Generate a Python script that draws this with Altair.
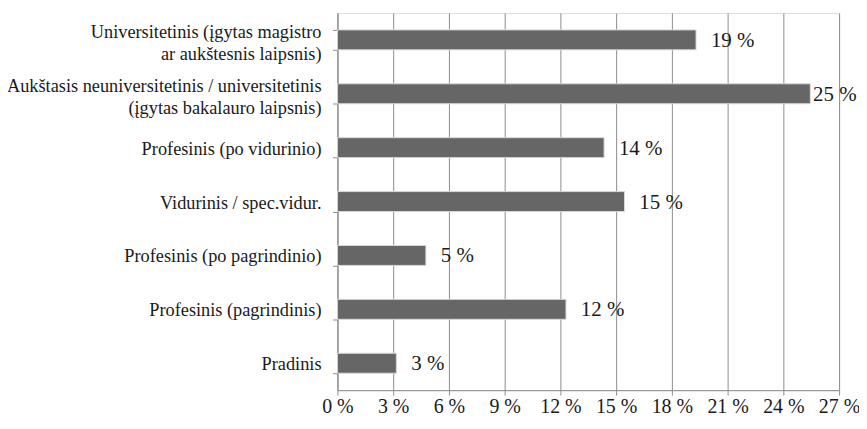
import altair as alt
import pandas as pd

categories = [
    "Universitetinis (įgytas magistro|ar aukštesnis laipsnis)",
    "Aukštasis neuniversitetinis / universitetinis|(įgytas bakalauro laipsnis)",
    "Profesinis (po vidurinio)",
    "Vidurinis / spec.vidur.",
    "Profesinis (po pagrindinio)",
    "Profesinis (pagrindinis)",
    "Pradinis",
]
values = [19.3, 25.45, 14.35, 15.45, 4.76, 12.3, 3.17]
value_labels = ["19 %", "25 %", "14 %", "15 %", "5 %", "12 %", "3 %"]
x_ticks = [0, 3, 6, 9, 12, 15, 18, 21, 24, 27]

df = pd.DataFrame({"cat": categories, "value": values, "label": value_labels})

FONT = "Liberation Serif"
GRID = "#8c8c8c"
TXT = "#1a1a1a"

y_scale = alt.Scale(paddingInner=0.63, paddingOuter=0.315)
y_enc = alt.Y(
    "cat:N",
    sort=categories,
    title=None,
    scale=y_scale,
    axis=alt.Axis(
        labels=False,
        tickSize=5,
        tickColor=GRID,
        tickBand="extent",
        domainColor=GRID,
        grid=False,
    ),
)

x_scale = alt.Scale(domain=[0, 27], nice=False, zero=True)

bars = alt.Chart(df).mark_bar(color="#666666", stroke="#d8d8d8", strokeWidth=1).encode(
    x=alt.X(
        "value:Q",
        scale=x_scale,
        title=None,
        axis=alt.Axis(
            values=x_ticks,
            labelExpr="datum.value + ' %'",
            labelFont=FONT,
            labelFontSize=20,
            labelColor=TXT,
            labelPadding=1,
            tickSize=5,
            tickColor=GRID,
            domainColor=GRID,
            gridColor=GRID,
            gridWidth=1,
            labelFlush=False,
        ),
    ),
    y=y_enc,
)

cat_base = alt.Chart(df).transform_calculate(
    two="indexof(datum.cat, '|') >= 0"
)
cat_single = cat_base.transform_filter("!datum.two").mark_text(
    align="right", baseline="middle", font=FONT, fontSize=18.4, color=TXT,
    lineBreak="|", lineHeight=22, dy=1
).encode(
    x=alt.value(-16),
    y=alt.Y("cat:N", sort=categories),
    text="cat:N",
)
cat_double = cat_base.transform_filter("datum.two").mark_text(
    align="right", baseline="middle", font=FONT, fontSize=18.4, color=TXT,
    lineBreak="|", lineHeight=22, dy=-8
).encode(
    x=alt.value(-16),
    y=alt.Y("cat:N", sort=categories),
    text="cat:N",
)

text = alt.Chart(df).transform_calculate(
    lpos="min(datum.value + 0.8, 25.6)"
).mark_text(
    align="left", baseline="middle", font=FONT, fontSize=21, color=TXT, dy=1
).encode(
    x=alt.X("lpos:Q", scale=x_scale),
    y=alt.Y("cat:N", sort=categories),
    text="label:N",
)

chart = (
    (bars + text + cat_single + cat_double)
    .properties(
        width=504,
        height=379,
        autosize=alt.AutoSizeParams(type="none"),
        padding={"left": 331, "top": 4, "right": 20, "bottom": 28},
    )
    .configure_view(stroke=None)
    .configure(background="white")
)

chart.save("out.html", embed_options={"renderer": "svg", "actions": False})
